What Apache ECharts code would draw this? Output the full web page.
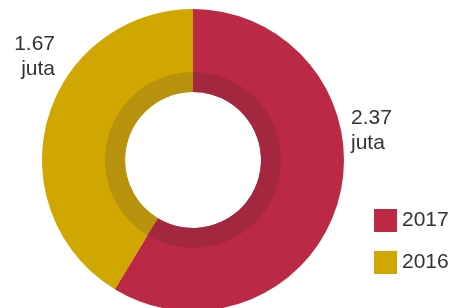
<!DOCTYPE html>
<html>
<head>
<meta charset="utf-8">
<script src="https://cdn.jsdelivr.net/npm/echarts@6/dist/echarts.min.js"></script>
<style>
  html, body { margin: 0; padding: 0; background: #fff; }
  #chart { width: 456px; height: 308px; }
</style>
</head>
<body>
<div id="chart"></div>
<script>
// data
const years = ['2017', '2016']
const values = [2.37, 1.67]
const unit = 'juta'

// colours
const mainColors = ['#bb2944', '#d0a600']
const ringColors = ['#a3283f', '#b8920c']

const chart = echarts.init(document.getElementById('chart'))

const pieData = years.map((y, i) => ({
  name: y,
  value: values[i],
  itemStyle: { color: mainColors[i] }
}))

const ringData = years.map((y, i) => ({
  name: y,
  value: values[i],
  itemStyle: { color: ringColors[i] }
}))

// label positions (left label right-aligned, right label left-aligned)
const labelSpots = [
  { x: 351, y: 106, align: 'left' },
  { x: 55, y: 32, align: 'right' }
]

const option = {
  animation: false,
  textStyle: { fontFamily: 'Liberation Sans, Arial, sans-serif' },
  legend: {
    data: years,
    orient: 'vertical',
    left: 369,
    top: 204,
    itemWidth: 23,
    itemHeight: 23,
    itemGap: 19,
    icon: 'rect',
    selectedMode: false,
    textStyle: { fontSize: 21, color: '#333' }
  },
  series: [
    {
      type: 'pie',
      center: [193, 160],
      radius: [68, 151],
      startAngle: 90,
      clockwise: true,
      silent: true,
      avoidLabelOverlap: false,
      data: pieData,
      label: {
        show: true,
        position: 'outside',
        fontSize: 21,
        lineHeight: 25,
        color: '#333',
        formatter: (p) => p.value.toFixed(2) + '\n' + unit
      },
      labelLine: { show: false },
      labelLayout: (params) => {
        const s = labelSpots[params.dataIndex]
        return { x: s.x, y: s.y, align: s.align, verticalAlign: 'top', hideOverlap: false }
      }
    },
    {
      type: 'pie',
      center: [193, 160],
      radius: [68, 88],
      startAngle: 90,
      clockwise: true,
      silent: true,
      data: ringData,
      label: { show: false },
      labelLine: { show: false }
    }
  ]
}

chart.setOption(option)
</script>
</body>
</html>
